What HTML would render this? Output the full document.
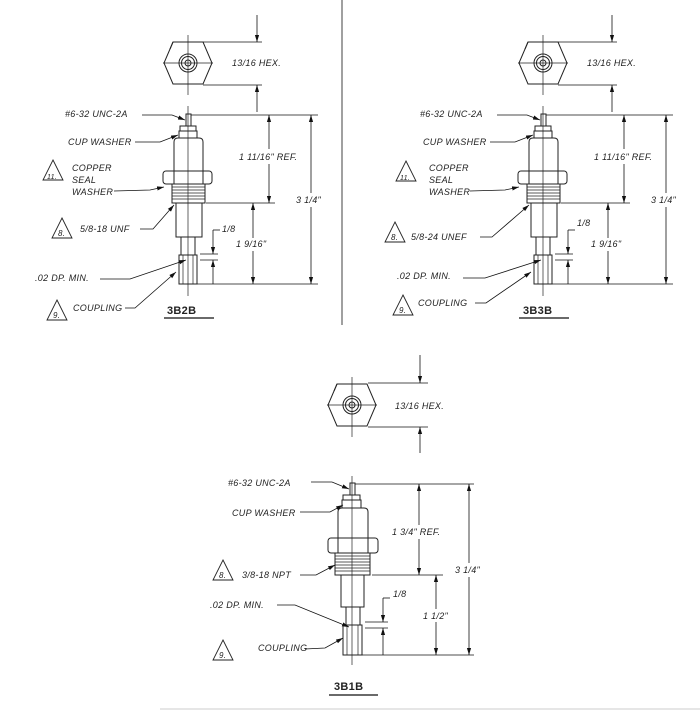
<!DOCTYPE html>
<html><head><meta charset="utf-8"><style>
html,body{margin:0;padding:0;background:#fff;}
svg{display:block}
text{font-family:"Liberation Sans",sans-serif;font-style:italic;font-size:9px;fill:#222;letter-spacing:0.3px}
.b{font-style:normal;font-weight:bold;font-size:11px}
</style></head><body>
<svg width="700" height="711" viewBox="0 0 700 711" xmlns="http://www.w3.org/2000/svg">
<defs>
<marker id="a" viewBox="0 0 10 10" refX="10" refY="5" markerWidth="7" markerHeight="7" orient="auto-start-reverse" markerUnits="userSpaceOnUse"><path d="M0,2 L10,5 L0,8z" fill="#111"/></marker>
<g id="hex" fill="none" stroke="#222" stroke-width="1">
<polygon points="-15,-21 15,-21 24,0 15,21 -15,21 -24,0"/>
<line x1="-15" y1="-21" x2="-18" y2="-14"/>
<circle r="9"/><circle r="6.5"/><circle r="3"/>
<line x1="-25" y1="0" x2="25" y2="0" stroke-width="0.7"/>
<line x1="0" y1="-28" x2="0" y2="32" stroke-width="0.7"/>
</g>
<g id="pin" fill="none" stroke="#222" stroke-width="1">
<rect x="-2" y="114" width="5" height="12"/>
<rect x="-8" y="126" width="16" height="5"/>
<rect x="-9" y="131" width="18" height="7"/>
<path d="M-14,172 V142 Q-14,138 -10,138 H11 Q15,138 15,142 V172"/>
<rect x="-25" y="171" width="49" height="13" rx="3"/>
<line x1="-14" y1="171" x2="-14" y2="184"/><line x1="15" y1="171" x2="15" y2="184"/>
<rect x="-16" y="184" width="33" height="19"/>
<path d="M-16,187 H17 M-16,190 H17 M-16,193 H17 M-16,196 H17 M-16,199 H17" stroke-width="0.8"/>
<rect x="-12" y="203" width="26" height="34"/>
<rect x="-7" y="237" width="14" height="18"/>
<rect x="-9" y="255" width="18" height="29"/>
<line x1="-5" y1="255" x2="-5" y2="284" stroke-width="0.7"/><line x1="5" y1="255" x2="5" y2="284" stroke-width="0.7"/>
<line x1="0" y1="106" x2="0" y2="296" stroke-width="0.7"/>
</g>
<g id="tri"><polygon points="10,0 20,20 0,20" fill="none" stroke="#222" stroke-width="0.9"/></g>
</defs>
<g stroke="#111" stroke-width="0.8" fill="none">
<line x1="342" y1="0" x2="342" y2="325"/>
<line x1="160" y1="709" x2="700" y2="709" stroke="#bbb"/>
</g>

<g id="d1">
<use href="#hex" x="188" y="63"/>
<use href="#pin" x="188" y="0"/>
<g stroke="#111" stroke-width="0.8" fill="none">
<line x1="203" y1="42" x2="262" y2="42"/><line x1="203" y1="85" x2="262" y2="85"/>
<line x1="257" y1="15" x2="257" y2="42" marker-end="url(#a)"/>
<line x1="257" y1="112" x2="257" y2="85" marker-end="url(#a)"/>
<line x1="191" y1="115" x2="318" y2="115"/>
<line x1="206" y1="203" x2="275" y2="203"/>
<line x1="197" y1="284" x2="318" y2="284"/>
<line x1="269" y1="115" x2="269" y2="203" marker-start="url(#a)" marker-end="url(#a)"/>
<line x1="253" y1="203" x2="253" y2="284" marker-start="url(#a)" marker-end="url(#a)"/>
<line x1="311" y1="115" x2="311" y2="284" marker-start="url(#a)" marker-end="url(#a)"/>
<line x1="200" y1="254" x2="218" y2="254"/><line x1="200" y1="260" x2="218" y2="260"/>
<line x1="213" y1="230" x2="213" y2="254" marker-end="url(#a)"/>
<line x1="213" y1="284" x2="213" y2="260" marker-end="url(#a)"/>
<line x1="213" y1="230" x2="220" y2="230"/>
<line x1="164" y1="318" x2="214" y2="318" stroke-width="1.2"/>
</g>
<g fill="#fff">
<rect x="237" y="149" width="64" height="15"/>
<rect x="295" y="193" width="34" height="14"/>
<rect x="234" y="238" width="40" height="13"/>
</g>
</g>
<use href="#d1" x="355" y="0"/>

<!-- leaders drawing 1 -->
<g stroke="#111" stroke-width="0.8" fill="none">
<polyline points="142,115 172,115 185,120" marker-end="url(#a)"/>
<polyline points="135,142 160,142 178,135" marker-end="url(#a)"/>
<polyline points="114,191 150,190 164,187" marker-end="url(#a)"/>
<polyline points="140,229 153,229 174,205" marker-end="url(#a)"/>
<polyline points="100,279 130,279 186,260" marker-end="url(#a)"/>
<polyline points="125,308 135,308 176,272" marker-end="url(#a)"/>
</g>
<use href="#tri" x="43" y="160"/><use href="#tri" x="52" y="218"/><use href="#tri" x="47" y="300"/>

<text x="232" y="66">13/16 HEX.</text>
<text x="65" y="117">#6-32 UNC-2A</text>
<text x="68" y="145">CUP WASHER</text>
<text x="72" y="171">COPPER</text><text x="72" y="183">SEAL</text><text x="72" y="195">WASHER</text>
<text x="47" y="179" style="font-size:7px">11.</text>
<text x="58" y="236" style="font-size:8px">8.</text>
<text x="53" y="318" style="font-size:8px">9.</text>
<text x="80" y="232">5/8-18 UNF</text>
<text x="35" y="281">.02 DP. MIN.</text>
<text x="73" y="311">COUPLING</text>
<text x="239" y="160">1 11/16" REF.</text>
<text x="236" y="247">1 9/16"</text>
<text x="222" y="232">1/8</text>
<text x="296" y="203">3 1/4"</text>
<text x="167" y="314" class="b">3B2B</text>

<!-- leaders drawing 2 -->
<g stroke="#111" stroke-width="0.8" fill="none">
<polyline points="497,115 527,115 540,120" marker-end="url(#a)"/>
<polyline points="490,142 515,142 533,135" marker-end="url(#a)"/>
<polyline points="470,191 505,190 519,187" marker-end="url(#a)"/>
<polyline points="480,237 492,237 529,205" marker-end="url(#a)"/>
<polyline points="463,278 485,278 541,260" marker-end="url(#a)"/>
<polyline points="475,303 486,303 531,272" marker-end="url(#a)"/>
</g>
<use href="#tri" x="396" y="161"/><use href="#tri" x="385" y="222"/><use href="#tri" x="393" y="295"/>
<text x="587" y="66">13/16 HEX.</text>
<text x="420" y="117">#6-32 UNC-2A</text>
<text x="423" y="145">CUP WASHER</text>
<text x="429" y="171">COPPER</text><text x="429" y="183">SEAL</text><text x="429" y="195">WASHER</text>
<text x="400" y="180" style="font-size:7px">11.</text>
<text x="391" y="240" style="font-size:8px">8.</text>
<text x="399" y="313" style="font-size:8px">9.</text>
<text x="411" y="240">5/8-24 UNEF</text>
<text x="397" y="279">.02 DP. MIN.</text>
<text x="418" y="306">COUPLING</text>
<text x="594" y="160">1 11/16" REF.</text>
<text x="591" y="247">1 9/16"</text>
<text x="577" y="226">1/8</text>
<text x="651" y="203">3 1/4"</text>
<text x="523" y="314" class="b">3B3B</text>

<!-- Drawing 3 -->
<use href="#hex" x="352" y="405"/>
<g fill="none" stroke="#222" stroke-width="1">
<rect x="350" y="483" width="5" height="12"/>
<rect x="343" y="495" width="17" height="5"/>
<rect x="342" y="500" width="19" height="8"/>
<path d="M338,540 V512 Q338,508 342,508 H364 Q368,508 368,512 V540"/>
<rect x="328" y="538" width="50" height="15" rx="3"/>
<line x1="338" y1="538" x2="338" y2="553"/><line x1="368" y1="538" x2="368" y2="553"/>
<rect x="335" y="553" width="35" height="22"/>
<path d="M335,556 H370 M335,559 H370 M335,562 H370 M335,565 H370 M335,568 H370 M335,571 H370" stroke-width="0.8"/>
<rect x="341" y="575" width="23" height="32"/>
<rect x="346" y="607" width="14" height="18"/>
<rect x="343" y="625" width="19" height="30"/>
<line x1="347" y1="625" x2="347" y2="655" stroke-width="0.7"/><line x1="358" y1="625" x2="358" y2="655" stroke-width="0.7"/>
<line x1="352" y1="476" x2="352" y2="665" stroke-width="0.7"/>
</g>
<g stroke="#111" stroke-width="0.8" fill="none">
<line x1="368" y1="383" x2="428" y2="383"/><line x1="368" y1="427" x2="428" y2="427"/>
<line x1="420" y1="355" x2="420" y2="383" marker-end="url(#a)"/>
<line x1="420" y1="453" x2="420" y2="427" marker-end="url(#a)"/>
<line x1="355" y1="484" x2="474" y2="484"/>
<line x1="372" y1="575" x2="443" y2="575"/>
<line x1="362" y1="655" x2="474" y2="655"/>
<line x1="419" y1="484" x2="419" y2="575" marker-start="url(#a)" marker-end="url(#a)"/>
<line x1="436" y1="575" x2="436" y2="655" marker-start="url(#a)" marker-end="url(#a)"/>
<line x1="469" y1="484" x2="469" y2="655" marker-start="url(#a)" marker-end="url(#a)"/>
<line x1="365" y1="622" x2="388" y2="622"/><line x1="365" y1="628" x2="388" y2="628"/>
<line x1="383" y1="598" x2="383" y2="622" marker-end="url(#a)"/>
<line x1="383" y1="655" x2="383" y2="628" marker-end="url(#a)"/>
<line x1="383" y1="598" x2="390" y2="598"/>
<polyline points="311,482 332,482 349,489" marker-end="url(#a)"/>
<polyline points="300,512 330,512 343,505" marker-end="url(#a)"/>
<polyline points="300,575 316,575 335,565" marker-end="url(#a)"/>
<polyline points="277,605 295,605 349,627" marker-end="url(#a)"/>
<polyline points="305,649 325,648 343,638" marker-end="url(#a)"/>
<line x1="329" y1="695" x2="378" y2="695" stroke-width="1.2"/>
</g>
<g fill="#fff">
<rect x="390" y="525" width="56" height="14"/>
<rect x="453" y="563" width="36" height="14"/>
<rect x="421" y="609" width="32" height="13"/>
</g>
<use href="#tri" x="213" y="560"/><use href="#tri" x="213" y="640"/>
<text x="395" y="409">13/16 HEX.</text>
<text x="228" y="486">#6-32 UNC-2A</text>
<text x="232" y="516">CUP WASHER</text>
<text x="219" y="578" style="font-size:8px">8.</text>
<text x="242" y="578">3/8-18 NPT</text>
<text x="210" y="608">.02 DP. MIN.</text>
<text x="219" y="658" style="font-size:8px">9.</text>
<text x="258" y="651">COUPLING</text>
<text x="392" y="535">1 3/4" REF.</text>
<text x="423" y="619">1 1/2"</text>
<text x="393" y="597">1/8</text>
<text x="455" y="573">3 1/4"</text>
<text x="334" y="690" class="b">3B1B</text>
</svg>
</body></html>
